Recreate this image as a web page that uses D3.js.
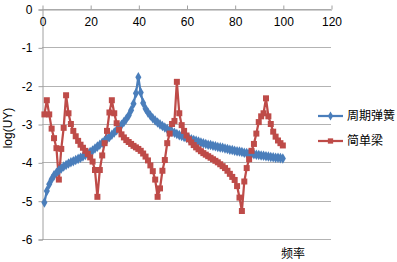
<!DOCTYPE html>
<html>
<head>
<meta charset="utf-8">
<script src="https://cdn.jsdelivr.net/npm/d3@7"></script>
<style>
  body { margin: 0; background: #fff; }
  text { font-family: "Liberation Sans", Arial, "Noto Sans CJK SC", sans-serif; font-size: 12px; fill: #000; }
  .cjk { font-family: "Noto Sans CJK SC", sans-serif; }
</style>
</head>
<body>
<svg id="chart" width="397" height="262"></svg>
<script>
const width = 397;
const height = 262;

const xTicks = [0, 20, 40, 60, 80, 100, 120];
const yTicks = [0, -1, -2, -3, -4, -5, -6];
const seriesNames = ["周期弹簧", "简单梁"];

const freq = d3.range(1, 101);

// 周期弹簧
const springValues = [
	-5.05, -4.75, -4.57, -4.44, -4.34, -4.27, -4.21, -4.16, -4.11, -4.07,
	-4.03, -4.00, -3.97, -3.94, -3.91, -3.88, -3.85, -3.81, -3.77, -3.73,
	-3.69, -3.64, -3.59, -3.54, -3.49, -3.44, -3.39, -3.34, -3.28, -3.22,
	-3.16, -3.09, -3.02, -2.95, -2.87, -2.78, -2.64, -2.47, -2.20, -1.78,
	-2.18, -2.45, -2.60, -2.70, -2.78, -2.85, -2.91, -2.96, -3.01, -3.05,
	-3.09, -3.13, -3.17, -3.20, -3.23, -3.26, -3.29, -3.31, -3.34, -3.36,
	-3.38, -3.40, -3.42, -3.44, -3.46, -3.48, -3.50, -3.52, -3.54, -3.55,
	-3.57, -3.58, -3.60, -3.61, -3.62, -3.64, -3.65, -3.67, -3.68, -3.70,
	-3.71, -3.72, -3.73, -3.75, -3.76, -3.77, -3.78, -3.79, -3.80, -3.81,
	-3.82, -3.83, -3.84, -3.85, -3.86, -3.87, -3.88, -3.88, -3.89, -3.90
];

// 简单梁
const beamValues = [
	-2.75, -2.38, -2.75, -3.12, -3.37, -3.63, -4.45, -3.65, -3.10, -2.25,
	-2.72, -3.00, -3.18, -3.32, -3.44, -3.54, -3.62, -3.70, -3.78, -3.87,
	-3.98, -4.20, -4.90, -4.20, -3.82, -3.50, -3.18, -2.70, -2.38, -2.72,
	-2.98, -3.15, -3.27, -3.35, -3.42, -3.47, -3.52, -3.57, -3.61, -3.65,
	-3.70, -3.77, -3.85, -3.95, -4.08, -4.23, -4.45, -4.90, -4.68, -4.22,
	-3.94, -3.50, -3.25, -3.00, -2.92, -1.90, -2.72, -3.03, -3.18, -3.30,
	-3.40, -3.48, -3.55, -3.61, -3.66, -3.71, -3.76, -3.80, -3.84, -3.88,
	-3.92, -3.96, -4.00, -4.05, -4.10, -4.15, -4.22, -4.30, -4.38, -4.46,
	-4.62, -4.92, -5.27, -4.50, -4.15, -3.92, -3.70, -3.52, -3.25, -2.95,
	-2.80, -2.72, -2.33, -2.80, -3.00, -3.20, -3.33, -3.43, -3.50, -3.56
];

const colors = ["#4A7EBB", "#BE4B48"];

const plot = { left: 42, right: 331, top: 9, bottom: 239 };

const svg = d3.select("#chart");

const x = d3.scaleLinear().domain([0, 120]).range([plot.left, plot.right]);
const y = d3.scaleLinear().domain([0, -6]).range([plot.top, plot.bottom]);

// gridlines
svg.append("g")
	.selectAll("line")
	.data(yTicks)
	.enter()
	.append("line")
	.attr("x1", plot.left)
	.attr("x2", plot.right)
	.attr("y1", (d) => Math.round(y(d)) + 0.5)
	.attr("y2", (d) => Math.round(y(d)) + 0.5)
	.attr("stroke", "#B3B3B3")
	.attr("stroke-width", 1);

// y axis (plain hyphen minus like the original)
const yAxis = svg.append("g")
	.attr("transform", `translate(${plot.left + 0.5}, 0.5)`)
	.call(d3.axisLeft(y).tickValues(yTicks).tickSize(4).tickPadding(6).tickFormat((d) => String(d)));
yAxis.select(".domain").attr("stroke", "#A0A0A0");
yAxis.selectAll(".tick line").attr("stroke", "#A0A0A0");
yAxis.selectAll("text").attr("font-size", 12).attr("font-family", "Liberation Sans, Arial, sans-serif");

// x axis sits at y = 0 (top), labels below
const xAxis = svg.append("g")
	.attr("transform", `translate(0.5, ${Math.round(y(0)) + 0.5})`)
	.call(d3.axisBottom(x).tickValues(xTicks).tickSizeInner(-4).tickSizeOuter(0).tickPadding(8).tickFormat((d) => String(d)));
xAxis.select(".domain").attr("stroke", "#A0A0A0");
xAxis.selectAll(".tick line").attr("stroke", "#A0A0A0");
xAxis.selectAll("text").attr("font-size", 12).attr("font-family", "Liberation Sans, Arial, sans-serif");

// series
const series = [springValues, beamValues];
const line = d3.line()
	.x((d, i) => x(freq[i]))
	.y((d) => y(d));

series.forEach((vals, s) => {
	svg.append("path")
		.datum(vals)
		.attr("fill", "none")
		.attr("stroke", colors[s])
		.attr("stroke-width", 2.25)
		.attr("stroke-linejoin", "round")
		.attr("d", line);
});

const diamond = d3.symbol().type(d3.symbolDiamond).size(32);
const square = d3.symbol().type(d3.symbolSquare).size(36);

svg.append("g")
	.selectAll("path")
	.data(springValues)
	.enter()
	.append("path")
	.attr("transform", (d, i) => `translate(${x(freq[i])}, ${y(d)})`)
	.attr("d", diamond)
	.attr("fill", colors[0]);

svg.append("g")
	.selectAll("path")
	.data(beamValues)
	.enter()
	.append("path")
	.attr("transform", (d, i) => `translate(${x(freq[i])}, ${y(d)})`)
	.attr("d", square)
	.attr("fill", colors[1]);

// axis titles
svg.append("text")
	.attr("transform", "translate(12, 128) rotate(-90)")
	.attr("text-anchor", "middle")
	.attr("font-family", "Liberation Sans, Arial, sans-serif")
	.text("log(UY)");

svg.append("text")
	.attr("class", "cjk")
	.attr("x", 293)
	.attr("y", 258)
	.attr("text-anchor", "middle")
	.text("频率");

// legend
const legend = svg.append("g")
	.attr("transform", "translate(318, 116)");

const legendItems = legend.selectAll("g")
	.data(seriesNames)
	.enter()
	.append("g")
	.attr("transform", (d, i) => `translate(0, ${i * 25})`);

legendItems.append("line")
	.attr("x1", 0)
	.attr("x2", 25)
	.attr("stroke", (d, i) => colors[i])
	.attr("stroke-width", 2.25);

legendItems.append("path")
	.attr("transform", "translate(12.5, 0)")
	.attr("d", (d, i) => i === 0 ? d3.symbol().type(d3.symbolDiamond).size(24)() : d3.symbol().type(d3.symbolSquare).size(28)())
	.attr("fill", (d, i) => colors[i]);

legendItems.append("text")
	.attr("class", "cjk")
	.attr("x", 29)
	.attr("dy", "0.35em")
	.text((d) => d);
</script>
</body>
</html>
